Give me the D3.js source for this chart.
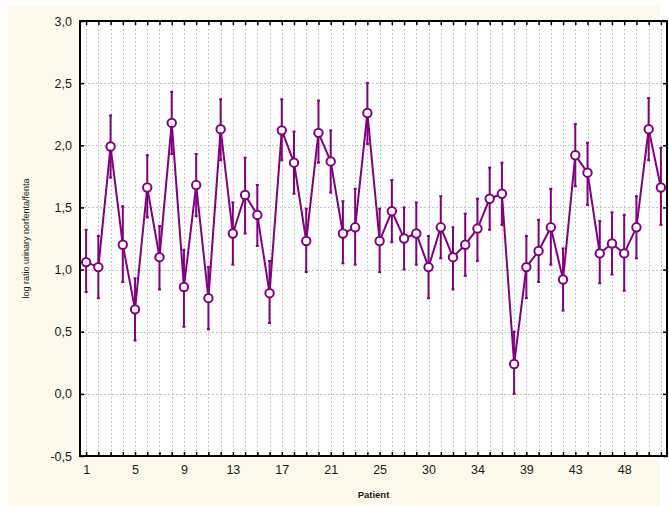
<!DOCTYPE html>
<html>
<head>
<meta charset="utf-8">
<script src="https://cdn.jsdelivr.net/npm/d3@7"></script>
<style>
  html, body { margin: 0; padding: 0; background: #ffffff; }
  svg { display: block; }
  text { font-family: "Liberation Sans", Arial, sans-serif; }
</style>
</head>
<body>
<svg id="chart" width="669" height="506"></svg>
<script>
// Patient identifiers (category axis)
const patients = [1,2,3,4,5,6,7,8,9,10,11,12,13,14,15,16,17,18,19,20,21,22,23,24,25,26,27,28,
  30,31,32,33,34,35,36,37,39,40,41,42,43,44,45,46,48,49,50,51];
// Patients whose number is printed under the axis
const labelledPatients = [1,5,9,13,17,21,25,30,34,39,43,48];
// Mean log ratio per patient
const means = [1.06,1.02,1.99,1.20,0.68,1.66,1.10,2.18,0.86,1.68,0.77,2.13,1.29,1.60,1.44,0.81,
  2.12,1.86,1.23,2.10,1.87,1.29,1.34,2.26,1.23,1.47,1.25,1.29,1.02,1.34,1.10,1.20,1.33,1.57,1.61,
  0.24,1.02,1.15,1.34,0.92,1.92,1.78,1.13,1.21,1.13,1.34,2.13,1.66];
// Upper and lower ends of the error bars
const upper = [1.32,1.27,2.24,1.51,0.93,1.92,1.35,2.43,1.16,1.93,1.02,2.37,1.54,1.90,1.68,1.07,
  2.37,2.11,1.49,2.36,2.12,1.55,1.65,2.50,1.49,1.72,1.50,1.54,1.27,1.59,1.34,1.45,1.57,1.82,1.86,
  0.50,1.27,1.40,1.65,1.17,2.17,2.02,1.39,1.46,1.44,1.59,2.38,1.98];
const lower = [0.82,0.77,1.74,0.90,0.43,1.42,0.84,1.93,0.54,1.43,0.52,1.88,1.04,1.29,1.19,0.57,
  1.88,1.61,0.98,1.86,1.62,1.05,1.04,2.01,0.98,1.22,1.00,1.04,0.77,1.09,0.84,0.95,1.07,1.32,1.36,
  0.00,0.77,0.90,1.04,0.67,1.67,1.52,0.89,0.96,0.83,1.09,1.88,1.36];
// Value axis ticks
const yTicks = [-0.5,0,0.5,1,1.5,2,2.5,3];

const data = patients.map((p, i) => ({ id: p, mean: means[i], hi: upper[i], lo: lower[i] }));

const svg = d3.select("#chart");
const m = { left: 80, right: 667, top: 21, bottom: 456 };
const purple = "#800080";

// page background
svg.append("rect").attr("x", 8).attr("y", 5).attr("width", 652).attr("height", 501)
  .attr("fill", "#fdf9ed");

const x = d3.scalePoint().domain(patients).range([m.left, m.right]).padding(0.5);
const y = d3.scaleLinear().domain([-0.5, 3]).range([m.bottom, m.top]);

// plot area
svg.append("rect").attr("x", m.left).attr("y", m.top)
  .attr("width", m.right - m.left).attr("height", m.bottom - m.top).attr("fill", "#ffffff");

// dotted grid
const grid = svg.append("g").attr("stroke", "#c4c4c4").attr("stroke-width", 1)
  .attr("stroke-dasharray", "2,2");
grid.selectAll("line.v").data(patients).join("line").attr("class", "v")
  .attr("x1", d => Math.round(x(d)) + 0.5).attr("x2", d => Math.round(x(d)) + 0.5)
  .attr("y1", m.top).attr("y2", m.bottom);
grid.selectAll("line.h").data(yTicks.filter(v => v > -0.5 && v < 3)).join("line").attr("class", "h")
  .attr("x1", m.left).attr("x2", m.right)
  .attr("y1", d => Math.round(y(d)) + 0.5).attr("y2", d => Math.round(y(d)) + 0.5);

// decimal comma, plain hyphen for negatives
const fmt = v => d3.format(".1f")(v).replace(".", ",").replace("\u2212", "-");
const tickStyle = g => {
  g.select(".domain").remove();
  g.selectAll(".tick line").attr("stroke", "#000").attr("stroke-width", 1.5);
};
// inner tick marks on all four sides
svg.append("g").attr("transform", `translate(0,${m.bottom})`)
  .call(d3.axisBottom(x).tickSize(-4).tickFormat("")).call(tickStyle);
svg.append("g").attr("transform", `translate(0,${m.top})`)
  .call(d3.axisTop(x).tickSize(-4).tickFormat("")).call(tickStyle);
svg.append("g").attr("transform", `translate(${m.right},0)`)
  .call(d3.axisRight(y).tickValues(yTicks).tickSize(-4).tickFormat("")).call(tickStyle);

// labelled axes
const yAxis = svg.append("g").attr("transform", `translate(${m.left},0)`)
  .call(d3.axisLeft(y).tickValues(yTicks).tickSize(-4).tickPadding(8).tickFormat(fmt))
  .call(tickStyle);
yAxis.selectAll("text").attr("font-size", 12.5).attr("fill", "#1a1a1a")
  .attr("font-family", "'Liberation Sans', Arial, sans-serif");

const xAxis = svg.append("g").attr("transform", `translate(0,${m.bottom})`)
  .call(d3.axisBottom(x).tickValues(labelledPatients).tickSize(0).tickPadding(9))
  .call(g => g.select(".domain").remove());
xAxis.selectAll("text").attr("font-size", 12.5).attr("fill", "#1a1a1a")
  .attr("font-family", "'Liberation Sans', Arial, sans-serif");

// frame
svg.append("rect").attr("x", m.left).attr("y", m.top)
  .attr("width", m.right - m.left).attr("height", m.bottom - m.top)
  .attr("fill", "none").attr("stroke", "#000").attr("stroke-width", 2);

// error bars
const eb = svg.append("g").attr("stroke", purple).attr("stroke-width", 2);
eb.selectAll("line.bar").data(data).join("line").attr("class", "bar")
  .attr("x1", d => x(d.id)).attr("x2", d => x(d.id))
  .attr("y1", d => y(d.hi)).attr("y2", d => y(d.lo));
eb.selectAll("line.capHi").data(data).join("line").attr("class", "capHi")
  .attr("x1", d => x(d.id) - 1.5).attr("x2", d => x(d.id) + 1.5)
  .attr("y1", d => y(d.hi)).attr("y2", d => y(d.hi));
eb.selectAll("line.capLo").data(data).join("line").attr("class", "capLo")
  .attr("x1", d => x(d.id) - 1.5).attr("x2", d => x(d.id) + 1.5)
  .attr("y1", d => y(d.lo)).attr("y2", d => y(d.lo));

// mean line
svg.append("path").datum(data)
  .attr("fill", "none").attr("stroke", purple).attr("stroke-width", 2)
  .attr("stroke-linejoin", "round")
  .attr("d", d3.line().x(d => x(d.id)).y(d => y(d.mean)));

// markers
svg.append("g").selectAll("circle").data(data).join("circle")
  .attr("cx", d => x(d.id)).attr("cy", d => y(d.mean)).attr("r", 4.2)
  .attr("fill", "#ffffff").attr("stroke", purple).attr("stroke-width", 2);

// axis titles
svg.append("text").attr("transform", `translate(29,${(m.top + m.bottom) / 2}) rotate(-90)`)
  .attr("text-anchor", "middle").attr("font-size", 9).attr("fill", "#1a1a1a")
  .text("log ratio urinary norfenta/fenta");
svg.append("text").attr("x", (m.left + m.right) / 2).attr("y", 498)
  .attr("text-anchor", "middle").attr("font-size", 9.5).attr("font-weight", "bold").attr("fill", "#1a1a1a")
  .text("Patient");
</script>
</body>
</html>
